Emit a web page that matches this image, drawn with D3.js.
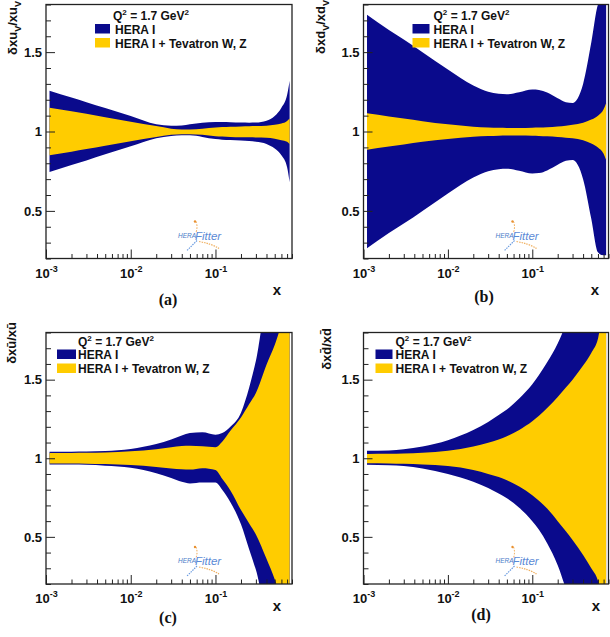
<!DOCTYPE html>
<html><head><meta charset="utf-8">
<script src="https://cdn.jsdelivr.net/npm/d3@7"></script>
<style>body{margin:0;background:#fff}svg{display:block}</style>
</head><body>
<svg id="c" width="610" height="637"></svg>
<script>
// ---------- data ----------
const xGrid = [0.0011,0.002,0.003,0.005,0.01,0.02,0.03,0.04,0.05,0.07,0.1,0.12,0.15,0.2,0.25,0.3,0.4,0.5,0.6,0.7,0.75];

// (a) u valence
const uvHeraUp = [1.257,1.214,1.185,1.148,1.097,1.045,1.036,1.038,1.045,1.055,1.060,1.060,1.058,1.056,1.055,1.056,1.068,1.098,1.150,1.230,1.320];
const uvHeraLo = [0.745,0.789,0.818,0.857,0.907,0.958,0.972,0.976,0.976,0.966,0.952,0.948,0.946,0.944,0.940,0.936,0.922,0.893,0.850,0.775,0.680];
const uvTevUp  = [1.150,1.127,1.112,1.089,1.061,1.034,1.018,1.013,1.013,1.018,1.025,1.028,1.030,1.032,1.033,1.034,1.036,1.042,1.050,1.066,1.082];
const uvTevLo  = [0.850,0.873,0.889,0.911,0.939,0.966,0.979,0.983,0.983,0.979,0.970,0.968,0.966,0.964,0.963,0.962,0.960,0.954,0.945,0.935,0.920];

// (b) d valence
const dvHeraUp = [1.735,1.640,1.580,1.500,1.390,1.290,1.250,1.238,1.235,1.248,1.265,1.262,1.245,1.210,1.185,1.180,1.300,1.560,1.800,1.850,1.850];
const dvHeraLo = [0.265,0.360,0.420,0.500,0.610,0.710,0.750,0.762,0.765,0.752,0.735,0.738,0.755,0.790,0.815,0.820,0.700,0.450,0.240,0.220,0.220];
const dvTevUp  = [1.115,1.095,1.082,1.065,1.045,1.030,1.025,1.023,1.022,1.022,1.024,1.025,1.027,1.032,1.037,1.042,1.055,1.075,1.100,1.140,1.180];
const dvTevLo  = [0.885,0.905,0.918,0.935,0.953,0.967,0.972,0.974,0.975,0.975,0.973,0.972,0.970,0.965,0.961,0.958,0.945,0.925,0.900,0.860,0.820];

// (c) u-bar
const ubHeraUp = [1.042,1.042,1.043,1.046,1.059,1.090,1.120,1.145,1.160,1.165,1.150,1.160,1.200,1.290,1.450,1.620,1.950,1.950,1.950,1.950,1.950];
const ubHeraLo = [0.960,0.960,0.958,0.953,0.940,0.905,0.875,0.850,0.840,0.845,0.845,0.800,0.720,0.580,0.420,0.290,0.050,0.050,0.050,0.050,0.050];
const ubTevUp  = [1.034,1.034,1.035,1.037,1.044,1.058,1.070,1.078,1.080,1.076,1.070,1.105,1.175,1.260,1.345,1.415,1.595,1.720,1.850,1.950,1.950];
const ubTevLo  = [0.966,0.966,0.965,0.963,0.957,0.945,0.935,0.930,0.928,0.937,0.925,0.870,0.795,0.670,0.585,0.515,0.360,0.230,0.100,0.050,0.050];

// (d) d-bar
const dbHeraUp = [1.048,1.050,1.058,1.075,1.115,1.180,1.230,1.275,1.310,1.380,1.470,1.530,1.610,1.730,1.850,1.950,1.950,1.950,1.950,1.950,1.950];
const dbHeraLo = [0.958,0.955,0.950,0.935,0.900,0.850,0.810,0.775,0.745,0.685,0.600,0.545,0.460,0.320,0.170,0.050,0.050,0.050,0.050,0.050,0.050];
const dbTevUp  = [1.027,1.028,1.030,1.035,1.048,1.075,1.098,1.120,1.140,1.180,1.235,1.270,1.320,1.390,1.450,1.500,1.590,1.670,1.760,1.950,1.950];
const dbTevLo  = [0.968,0.967,0.965,0.960,0.950,0.925,0.900,0.880,0.860,0.820,0.765,0.730,0.680,0.600,0.535,0.480,0.385,0.300,0.220,0.050,0.050];

// axis ranges & ticks
const xDomain = [0.001, 0.8];
const yDomain = [0.2, 1.8];
const xMajorTicks = [0.001, 0.01, 0.1];
const xMajorExp = ['-3', '-2', '-1'];
const yMajorTicks = [0.5, 1, 1.5];
const yMajorLabels = ['0.5', '1', '1.5'];
const yMinorTicks = [0.2,0.3,0.4,0.6,0.7,0.8,0.9,1.1,1.2,1.3,1.4,1.6,1.7,1.8];
const xMinorTicks = [];
[0.001,0.01,0.1].forEach(d => { for (let k = 2; k <= 9; k++) if (d*k <= 0.8) xMinorTicks.push(d*k); });

const legendNames = ['HERA I', 'HERA I + Tevatron W, Z'];
const captions = ['(a)', '(b)', '(c)', '(d)'];

// ---------- layout ----------
const BLUE = '#0a0a8c', YELLOW = '#ffcc00';
const FONT = '"Liberation Sans", Arial, Helvetica, sans-serif';
const SERIF = '"Liberation Serif", "Times New Roman", serif';

const panels = [
  {L:46,  R:292, T:4.5,   B:258.5, hera:[uvHeraLo,uvHeraUp], tev:[uvTevLo,uvTevUp],
   title:['δxu','V','/xu','V'], tx:17, ty:1, leg:{bx:49, bw:15, tx:69, qx:67, qb:15, b1:19.5, b2:33.5}, cap:{x:168,y:305}, xl:{x:277,y:295}},
  {L:363.5, R:608.5, T:4.5, B:258.5, hera:[dvHeraLo,dvHeraUp], tev:[dvTevLo,dvTevUp],
   title:['δxd','V','/xd','V'], tx:325, ty:0, leg:{bx:49, bw:17, tx:70, qx:70, qb:15, b1:19.5, b2:33.5}, cap:{x:484,y:302}, xl:{x:595,y:295}},
  {L:46,  R:292, T:332.5, B:584,  hera:[ubHeraLo,ubHeraUp], tev:[ubTevLo,ubTevUp],
   title:['δxū/xū'], tx:16, ty:322, leg:{bx:11, bw:19, tx:32, qx:32, qb:13.5, b1:17, b2:31}, cap:{x:168,y:623}, xl:{x:277,y:611}},
  {L:363.5, R:608.5, T:332.5, B:584, hera:[dbHeraLo,dbHeraUp], tev:[dbTevLo,dbTevUp],
   title:['δxd\u0304/xd\u0304'], tx:331, ty:328, leg:{bx:12, bw:17, tx:32, qx:32, qb:13.5, b1:17, b2:31}, cap:{x:481,y:620}, xl:{x:596,y:611}}
];

const svg = d3.select('#c');

panels.forEach((p, pi) => {
  const x = d3.scaleLog().domain(xDomain).range([p.L, p.R]);
  const y = d3.scaleLinear().domain(yDomain).range([p.B, p.T]);
  const g = svg.append('g');

  const clipId = 'clip' + pi;
  svg.append('clipPath').attr('id', clipId).append('rect')
    .attr('x', p.L).attr('y', p.T).attr('width', p.R - p.L).attr('height', p.B - p.T);

  const band = (lo, up) => d3.area()
    .x((d, i) => x(xGrid[i]))
    .y0((d, i) => y(lo[i]))
    .y1((d, i) => y(up[i]))
    .curve(d3.curveMonotoneX);

  const plot = g.append('g').attr('clip-path', `url(#${clipId})`);
  plot.append('path').datum(xGrid).attr('d', band(p.hera[0], p.hera[1])).attr('fill', BLUE);
  plot.append('path').datum(xGrid).attr('d', band(p.tev[0], p.tev[1])).attr('fill', YELLOW);

  // HERAFitter logo
  const lx = p.L + 131, lb = p.B;
  const logo = g.append('g');
  logo.append('path').attr('d', `M${lx+19},${lb-37} q2,5 0,11`).attr('fill','none')
    .attr('stroke','#f0a040').attr('stroke-width',1).attr('stroke-dasharray','1.5,1.5');
  logo.append('circle').attr('cx', lx+18).attr('cy', lb-37).attr('r', 1.2).attr('fill', '#e89030');
  logo.append('path').attr('d', `M${lx+20},${lb-18} L${lx+10},${lb-8}`).attr('fill','none')
    .attr('stroke','#6a9be0').attr('stroke-width',1.2).attr('stroke-dasharray','1.5,1');
  logo.append('path').attr('d', `M${lx+22},${lb-17} q12,2 20,7`).attr('fill','none')
    .attr('stroke','#f0b060').attr('stroke-width',1.2).attr('stroke-dasharray','1.5,1');
  logo.append('text').attr('x', lx + 1).attr('y', lb - 21).attr('font-family', FONT)
    .attr('font-style','italic').attr('font-size', 6.5).attr('fill', '#4a7cc8').text('HERA');
  logo.append('text').attr('x', lx + 18).attr('y', lb - 19).attr('font-family', FONT)
    .attr('font-style','italic').attr('font-size', 11.5).attr('fill', '#5b8ad6').text('Fitter');

  // axes
  const styleAxis = a => { a.select('.domain').remove(); a.attr('color', '#222'); a.selectAll('line').attr('stroke-width', 1); };
  g.append('g').attr('transform', `translate(${p.L},0)`)
    .call(d3.axisLeft(y).tickValues(yMinorTicks).tickSize(-5).tickFormat(''))
    .call(styleAxis);
  const ya = g.append('g').attr('transform', `translate(${p.L},0)`)
    .call(d3.axisLeft(y).tickValues(yMajorTicks).tickSize(-9).tickPadding(4).tickFormat((d, i) => yMajorLabels[i]))
    .call(styleAxis);
  ya.selectAll('text').attr('font-family', FONT).attr('font-weight', 'bold').attr('font-size', 13).attr('fill', '#111');

  g.append('g').attr('transform', `translate(0,${p.B})`)
    .call(d3.axisBottom(x).tickValues(xMinorTicks).tickSize(-4.5).tickFormat(''))
    .call(styleAxis);
  const xa = g.append('g').attr('transform', `translate(0,${p.B})`)
    .call(d3.axisBottom(x).tickValues(xMajorTicks).tickSize(-9).tickFormat(''))
    .call(styleAxis);
  xa.selectAll('.tick text').each(function(d, i) {
    const t = d3.select(this);
    t.attr('y', 19).attr('dy', null).attr('font-family', FONT).attr('font-weight', 'bold')
      .attr('font-size', 13).attr('fill', '#111').attr('text-anchor', 'middle');
    t.append('tspan').text('10');
    t.append('tspan').attr('dy', -6).attr('font-size', 9).text(xMajorExp[i]);
  });

  // frame
  g.append('rect').attr('x', p.L).attr('y', p.T).attr('width', p.R - p.L).attr('height', p.B - p.T)
    .attr('fill', 'none').attr('stroke', '#222').attr('stroke-width', 1.3);

  // y title
  const yt = g.append('text').attr('transform', `translate(${p.tx},${p.ty}) rotate(-90)`)
    .attr('text-anchor', 'end').attr('font-family', FONT).attr('font-weight', 'bold')
    .attr('font-size', 13).attr('fill', '#111');
  if (p.title.length === 1) {
    yt.text(p.title[0]);
  } else {
    yt.append('tspan').text(p.title[0]);
    yt.append('tspan').attr('dy', 3.5).attr('font-size', 9).text(p.title[1]);
    yt.append('tspan').attr('dy', -3.5).text(p.title[2]);
    yt.append('tspan').attr('dy', 3.5).attr('font-size', 9).text(p.title[3]);
  }

  // x label
  g.append('text').attr('x', p.xl.x).attr('y', p.xl.y).attr('text-anchor', 'middle')
    .attr('font-family', FONT).attr('font-weight', 'bold').attr('font-size', 15).attr('fill', '#111').text('x');

  // caption
  g.append('text').attr('x', p.cap.x).attr('y', p.cap.y).attr('text-anchor', 'middle')
    .attr('font-family', SERIF).attr('font-weight', 'bold').attr('font-size', 16).attr('fill', '#111').text(captions[pi]);

  // legend
  const lg = g.append('g').attr('transform', `translate(${p.L},${p.T})`);
  const q = lg.append('text').attr('x', p.leg.qx).attr('y', p.leg.qb)
    .attr('font-family', FONT).attr('font-weight', 'bold').attr('font-size', 12).attr('fill', '#111');
  q.append('tspan').text('Q');
  q.append('tspan').attr('dy', -5).attr('font-size', 8).text('2');
  q.append('tspan').attr('dy', 5).text(' = 1.7 GeV');
  q.append('tspan').attr('dy', -5).attr('font-size', 8).text('2');
  [BLUE, YELLOW].forEach((c, k) => {
    const top = k === 0 ? p.leg.b1 : p.leg.b2;
    lg.append('rect').attr('x', p.leg.bx).attr('y', top).attr('width', p.leg.bw).attr('height', 9.5).attr('fill', c);
    lg.append('text').attr('x', p.leg.tx).attr('y', top + 9.5)
      .attr('font-family', FONT).attr('font-weight', 'bold').attr('font-size', 12).attr('fill', '#111')
      .text(legendNames[k]);
  });
});
</script>
</body></html>
